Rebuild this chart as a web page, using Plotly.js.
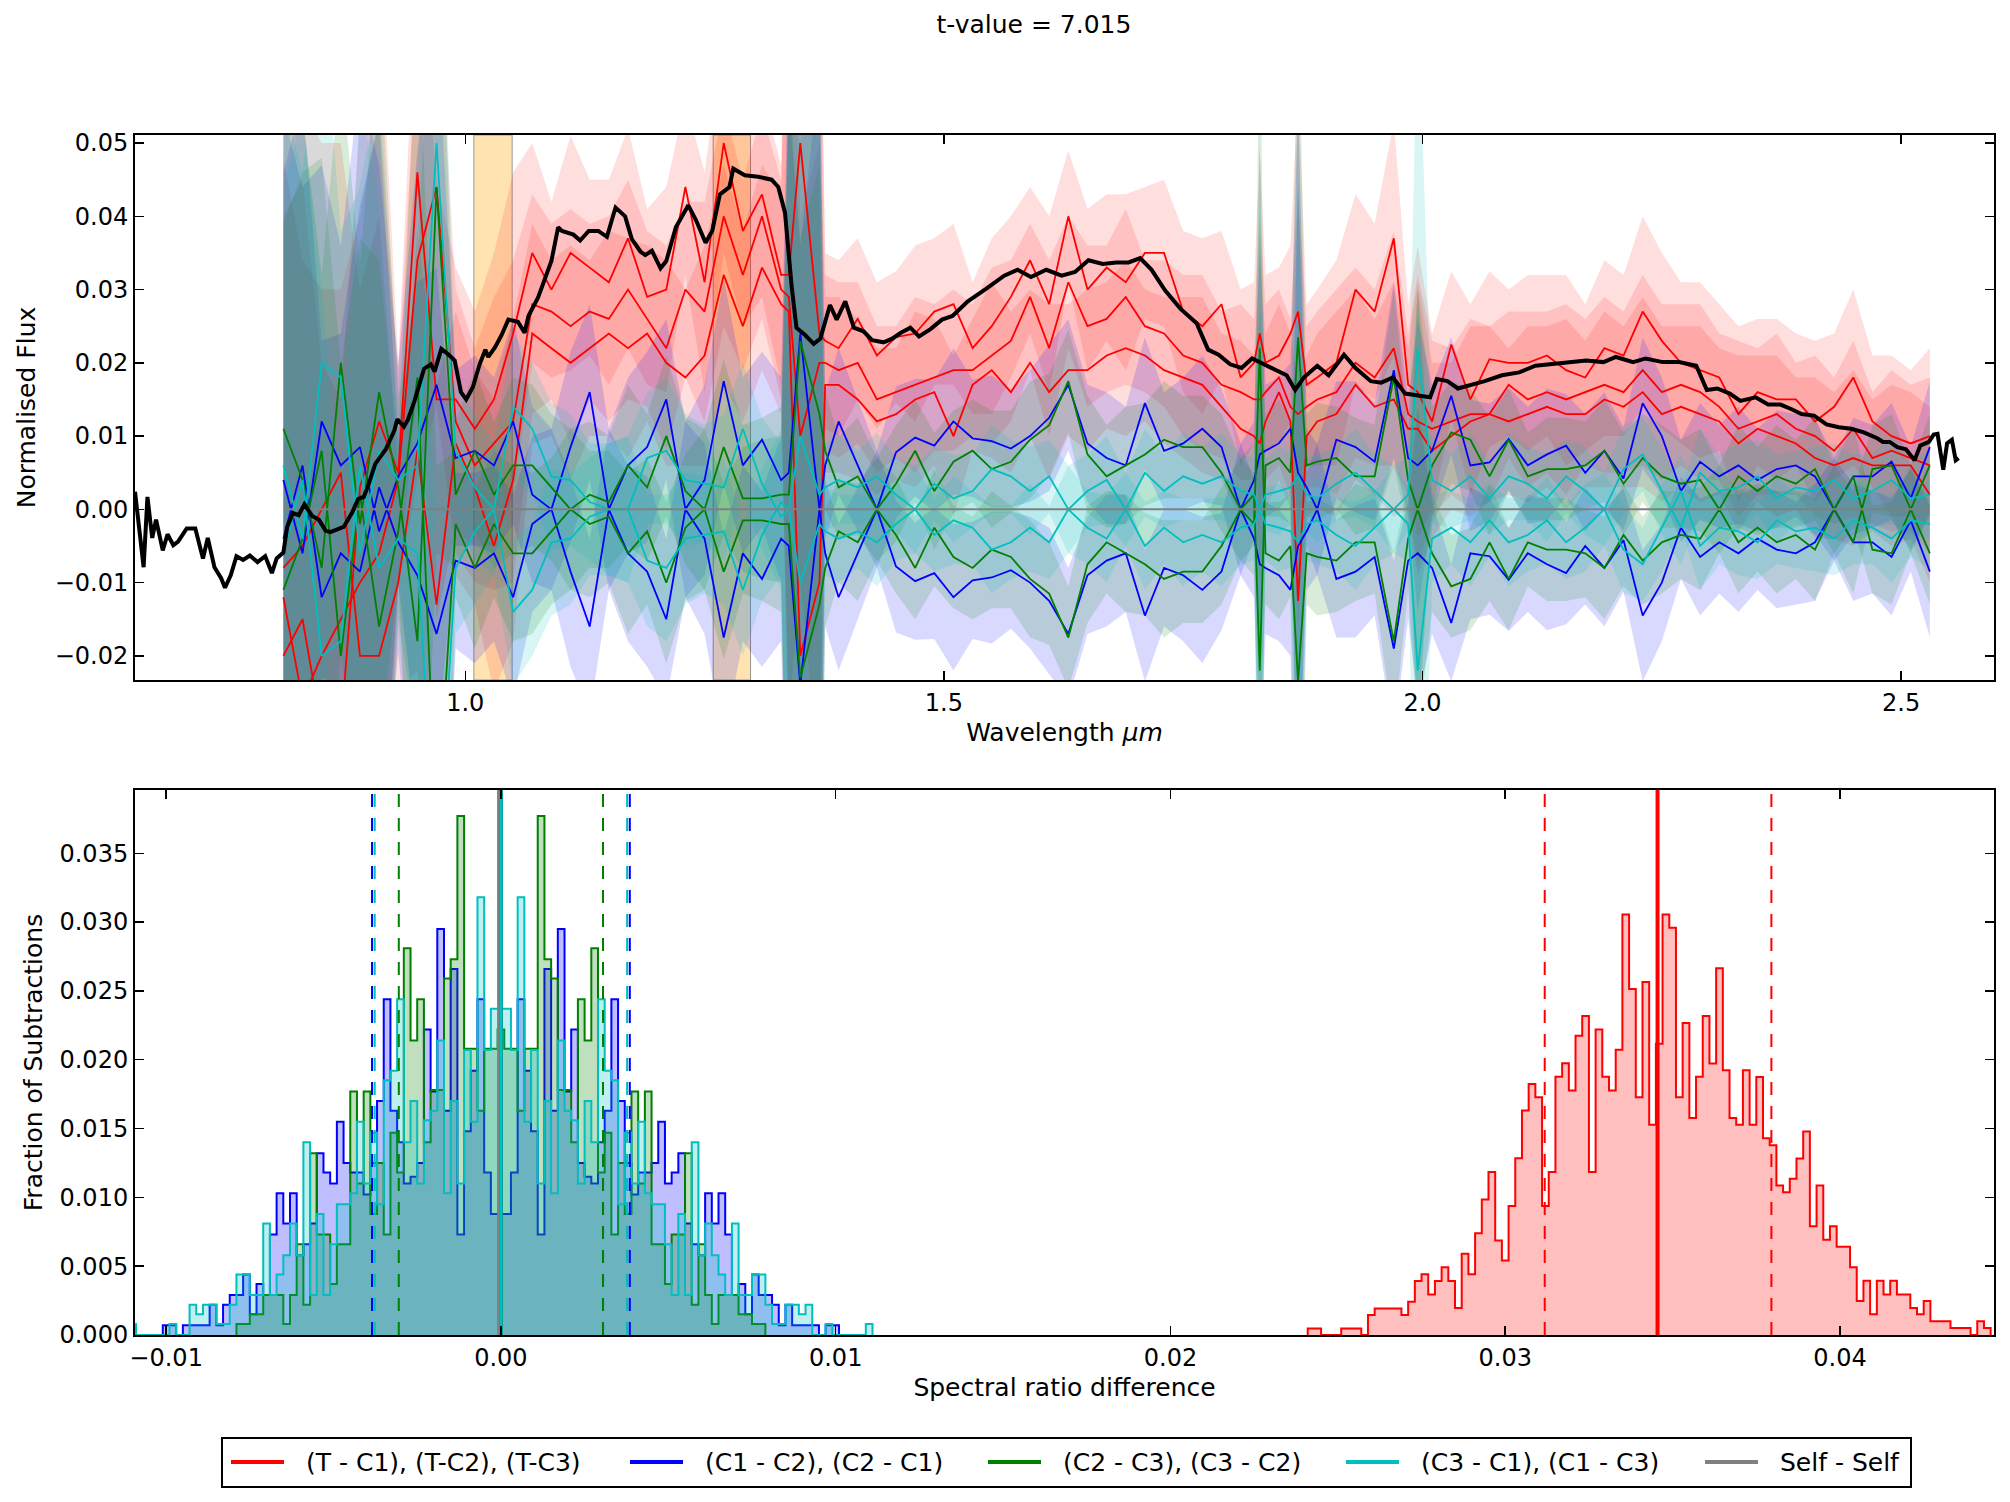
<!DOCTYPE html>
<html>
<head>
<meta charset="utf-8">
<script src="https://cdn.plot.ly/plotly-3.0.1.min.js"></script>
<style>html,body{margin:0;padding:0;background:#fff;}</style>
</head>
<body>
<div id="chart" style="width:2010px;height:1502px;"></div>
<script>
// ---------- Upper panel: spectral differences ----------
const wavelength = [0.81,0.83,0.85,0.87,0.89,0.91,0.93,0.95,0.97,0.99,
 1.01,1.03,1.05,1.07,1.09,1.11,1.13,1.15,1.17,1.19,
 1.21,1.23,1.25,1.27,1.29,1.31,1.33,
 1.338,
 1.35,1.37,
 1.376,
 1.39,1.41,1.43,1.45,1.47,1.49,1.51,1.53,1.55,1.57,1.59,
 1.61,1.63,1.65,1.67,1.69,1.71,1.73,1.75,1.77,1.79,1.81,
 1.824, 1.83, 1.836, 1.85, 1.862, 1.87, 1.879,
 1.89,1.91,1.93,1.95,1.97,
 1.985, 1.995,
 2.01,2.03,2.05,2.07,2.09,2.11,2.13,2.15,2.17,2.19,
 2.21,2.23,2.25,2.27,2.29,2.31,2.33,2.35,2.37,2.39,
 2.41,2.43,2.45,2.47,2.49,2.51,2.53];

const diffTC1 = [-0.020,-0.015,-0.030,-0.030,0.003,0.012,0.005,0.046,0.015,0.015,
 0.011,0.015,0.024,0.035,0.030,0.035,0.033,0.031,0.037,0.029,
 0.030,0.044,0.031,0.050,0.038,0.043,0.032,
 0.032,
 0.050,0.024,
 0.023,
 0.022,0.026,0.021,0.0235,0.024,0.027,0.028,0.022,0.025,0.029,0.034,
 0.028,0.040,0.030,0.033,0.031,0.035,0.035,0.027,0.025,0.028,0.018,
 0.020,0.024,0.020,0.021,0.024,0.027,0.017,
 0.018,0.020,0.030,0.027,0.037,
 0.017,0.016,
 0.012,0.0225,0.015,0.0205,0.020,0.020,0.021,0.019,0.018,0.022,
 0.021,0.027,0.023,0.020,0.019,0.018,0.013,0.016,0.015,0.015,
 0.012,0.014,0.018,0.012,0.010,0.009,0.010];

const diffTC2 = [-0.012,-0.026,-0.020,-0.015,-0.010,-0.006,0.004,0.034,0.044,0.012,
 0.006,0.009,0.012,0.028,0.027,0.025,0.027,0.026,0.030,0.026,
 0.022,0.030,0.027,0.040,0.032,0.040,0.030,
 0.029,
 0.010,0.020,
 0.020,
 0.019,0.020,0.015,0.016,0.017,0.018,0.019,0.019,0.021,0.023,0.029,
 0.022,0.031,0.025,0.026,0.029,0.025,0.024,0.021,0.020,0.017,0.016,
 0.015,0.015,0.016,0.018,0.014,0.013,0.014,
 0.015,0.016,0.020,0.018,0.022,
 0.013,0.012,
 0.011,0.012,0.013,0.013,0.017,0.015,0.016,0.015,0.016,0.017,
 0.016,0.019,0.016,0.017,0.016,0.014,0.011,0.012,0.013,0.011,
 0.010,0.008,0.011,0.007,0.008,0.007,0.006];

const diffTC3 = [-0.008,-0.005,0.000,0.005,-0.020,-0.020,-0.010,0.008,-0.013,0.009,
 0.003,-0.005,0.004,0.024,0.022,0.020,0.022,0.024,0.022,0.024,
 0.020,0.018,0.021,0.032,0.025,0.033,0.028,
 0.027,
 -0.020,-0.010,
 0.017,
 0.017,0.015,0.012,0.013,0.015,0.016,0.010,0.017,0.019,0.016,0.020,
 0.016,0.019,0.019,0.021,0.022,0.021,0.019,0.018,0.017,0.014,0.011,
 0.010,0.009,0.012,0.016,0.012,-0.0125,0.010,
 0.012,0.013,0.017,0.014,0.015,
 0.011,0.011,
 0.008,0.010,0.012,0.013,0.012,0.013,0.014,0.013,0.013,0.015,
 0.014,0.016,0.013,0.014,0.013,0.012,0.009,0.011,0.010,0.009,
 0.007,0.006,0.007,0.006,0.006,0.006,0.002];

const diffC1C2 = [0.004,-0.006,0.012,0.006,0.0085,-0.003,0.0045,0.009,0.017,0.007,
 0.008,0.006,0.012,0.002,0.000,0.0085,0.016,0.000,0.006,0.0085,
 0.015,0.000,0.004,0.0175,0.006,0.0095,0.004,
 0.005,
 0.024,0.000,
 0.006,
 0.012,0.006,0.000,0.0078,0.0098,0.0087,0.012,0.0097,0.0093,0.0083,0.010,
 0.0125,0.017,0.009,0.007,0.006,0.0145,0.008,0.009,0.011,0.0085,0.000,
 0.004,0.0075,0.008,0.009,0.011,0.005,0.003,
 0.000,0.0095,0.0085,0.0065,0.019,
 0.007,0.006,
 0.008,0.0155,0.006,0.0064,0.0096,0.006,0.0075,0.0087,0.005,0.008,
 0.0042,0.0145,0.010,0.0025,0.0065,0.0045,0.006,0.004,0.0055,0.006,
 0.0045,0.000,0.0045,0.0045,0.0065,0.0015,0.0085];

const diffC2C3 = [0.011,0.004,-0.008,0.020,-0.002,0.016,0.003,-0.018,0.044,0.002,
 0.008,0.002,0.006,0.006,0.003,0.000,0.002,0.001,0.006,0.003,
 0.010,0.0025,0.000,0.0085,0.0015,0.0015,0.002,
 0.002,
 0.023,0.013,
 0.008,
 0.003,0.0045,0.000,0.0035,0.008,0.0025,0.0065,0.008,0.0055,0.0065,0.0095,
 0.0115,0.0175,0.0075,0.0045,0.006,0.0075,0.0095,0.0085,0.0085,0.005,0.000,
 0.002,-0.022,0.006,0.007,0.005,0.0235,0.006,
 0.0065,0.007,0.0045,0.0045,0.018,
 0.004,0.000,
 0.006,0.0105,0.0095,0.0045,0.0095,0.0045,0.0055,0.0055,0.006,0.008,
 0.0035,0.007,0.0045,0.0035,0.004,0.000,0.0045,0.0025,0.0045,0.0035,
 0.0055,0.000,-0.0045,0.0055,0.006,0.000,0.006];

const diffC3C1 = [0.006,-0.004,0.020,0.018,-0.006,0.008,0.004,0.006,0.050,0.008,
 0.003,0.000,0.014,0.011,0.0045,0.004,0.001,0.000,0.000,0.007,
 0.008,0.004,0.0035,0.003,0.011,0.0035,-0.001,
 0.000,
 0.010,0.002,
 0.003,
 0.004,0.003,0.0045,0.002,0.000,0.0035,0.0015,0.0025,0.0055,0.0045,0.0025,
 0.0045,0.000,0.0025,0.004,0.000,0.005,0.0025,0.0045,0.0035,0.0045,0.0025,
 0.002,0.000,0.002,0.0025,0.003,0.0045,0.002,
 0.0015,0.0035,0.005,0.0025,0.000,
 0.002,0.022,
 0.004,0.0025,0.0045,0.0015,0.0045,0.0035,0.0015,0.0045,0.0025,0.000,
 0.0055,0.0075,0.0025,-0.0025,0.005,0.0025,0.003,0.0045,0.0015,0.003,
 0.0025,0.004,0.0015,0.0025,0.004,0.0015,0.002];

// one-sigma spreads of each difference family
const sigmaT = [0.060,0.060,0.050,0.045,0.050,0.060,0.015,0.030,0.030,0.018,
 0.016,0.020,0.022,0.015,0.012,0.016,0.012,0.014,0.015,0.012,
 0.014,0.012,0.015,0.015,0.013,0.014,0.015,
 0.060,
 0.060,0.060,
 0.012,
 0.012,0.011,0.010,0.009,0.012,0.010,0.011,0.009,0.012,0.011,0.010,
 0.012,0.009,0.011,0.010,0.012,0.009,0.010,0.011,0.012,0.010,0.012,
 0.011,0.025,0.012,0.012,0.012,0.030,0.011,
 0.012,0.014,0.013,0.012,0.016,
 0.011,0.020,
 0.012,0.010,0.013,0.012,0.010,0.012,0.011,0.013,0.010,0.012,
 0.011,0.013,0.012,0.011,0.012,0.010,0.012,0.010,0.011,0.009,
 0.011,0.010,0.012,0.009,0.011,0.010,0.012];

const sigmaC1C2 = [0.050,0.050,0.035,0.030,0.050,0.050,0.015,0.040,0.050,0.012,
 0.013,0.012,0.014,0.012,0.011,0.013,0.012,0.011,0.012,0.013,
 0.011,0.012,0.013,0.014,0.012,0.012,0.014,
 0.060,
 0.060,0.060,
 0.010,
 0.010,0.009,0.008,0.009,0.008,0.009,0.010,0.008,0.009,0.008,0.009,
 0.010,0.009,0.008,0.009,0.008,0.009,0.008,0.009,0.010,0.008,0.009,
 0.008,0.030,0.009,0.009,0.009,0.050,0.008,
 0.009,0.008,0.009,0.008,0.012,
 0.008,0.020,
 0.009,0.008,0.009,0.008,0.007,0.008,0.009,0.007,0.008,0.008,
 0.007,0.009,0.008,0.007,0.008,0.007,0.008,0.007,0.008,0.007,
 0.008,0.007,0.008,0.007,0.008,0.007,0.009];

const sigmaC2C3 = [0.050,0.050,0.040,0.040,0.035,0.050,0.012,0.050,0.050,0.010,
 0.011,0.010,0.012,0.011,0.010,0.011,0.010,0.009,0.011,0.010,
 0.011,0.010,0.011,0.012,0.010,0.011,0.012,
 0.060,
 0.060,0.060,
 0.008,
 0.007,0.008,0.007,0.008,0.007,0.008,0.007,0.007,0.008,0.007,0.008,
 0.007,0.007,0.008,0.007,0.008,0.007,0.008,0.007,0.007,0.008,0.007,
 0.007,0.050,0.007,0.008,0.007,0.050,0.007,
 0.008,0.007,0.008,0.007,0.012,
 0.007,0.030,
 0.008,0.007,0.007,0.008,0.007,0.006,0.007,0.007,0.006,0.007,
 0.007,0.006,0.007,0.006,0.007,0.006,0.007,0.006,0.007,0.006,
 0.007,0.006,0.007,0.006,0.007,0.006,0.007];

const sigmaC3C1 = [0.050,0.050,0.050,0.020,0.050,0.050,0.012,0.040,0.050,0.009,
 0.010,0.009,0.010,0.009,0.010,0.009,0.008,0.009,0.010,0.009,
 0.010,0.009,0.008,0.010,0.009,0.009,0.010,
 0.060,
 0.060,0.060,
 0.006,
 0.006,0.005,0.006,0.005,0.006,0.005,0.006,0.005,0.006,0.005,0.006,
 0.005,0.006,0.005,0.006,0.005,0.006,0.005,0.006,0.005,0.006,0.005,
 0.005,0.050,0.005,0.006,0.005,0.050,0.005,
 0.006,0.005,0.006,0.005,0.006,
 0.005,0.050,
 0.006,0.005,0.006,0.005,0.006,0.005,0.006,0.005,0.006,0.005,
 0.006,0.005,0.006,0.005,0.006,0.005,0.006,0.005,0.006,0.005,
 0.006,0.005,0.006,0.005,0.006,0.005,0.006];

// reference spectrum (normalised, offset)
const refWave = [0.655,0.664,0.668,0.673,0.677,0.684,0.689,0.695,0.700,0.709,
 0.718,0.726,0.731,0.738,0.745,0.749,0.755,0.761,0.768,0.775,
 0.783,0.791,0.798,0.803,0.810,0.814,0.820,0.826,0.832,0.840,
 0.847,0.854,0.859,0.864,0.873,0.882,0.888,0.894,0.899,0.906,
 0.917,0.926,0.929,0.936,0.940,0.947,0.952,0.957,0.964,0.968,
 0.975,0.981,0.989,0.9955,1.001,1.008,1.015,1.021,1.024,1.031,
 1.038,1.045,1.055,1.062,1.066,1.076,1.083,1.090,1.097,1.101,
 1.113,1.120,1.129,1.139,1.148,1.157,1.167,1.174,1.183,1.188,
 1.195,1.204,1.210,1.220,1.233,1.241,1.251,1.258,1.266,1.276,
 1.280,1.292,1.306,1.320,1.327,1.334,1.341,1.346,1.355,1.364,
 1.371,1.381,1.388,1.397,1.406,1.416,1.425,1.437,1.446,1.455,
 1.465,1.474,1.486,1.498,1.509,1.525,1.544,1.563,1.577,1.591,
 1.607,1.623,1.637,1.651,1.666,1.680,1.693,1.705,1.717,1.731,
 1.747,1.764,1.776,1.787,1.799,1.811,1.822,1.834,1.846,1.858,
 1.867,1.876,1.890,1.902,1.918,1.930,1.946,1.957,1.969,1.982,
 1.997,2.008,2.015,2.026,2.037,2.052,2.065,2.083,2.101,2.118,
 2.132,2.154,2.171,2.189,2.202,2.220,2.233,2.251,2.268,2.286,
 2.297,2.308,2.321,2.332,2.348,2.361,2.374,2.385,2.396,2.409,
 2.422,2.435,2.448,2.461,2.475,2.481,2.488,2.496,2.505,2.514,
 2.520,2.529,2.534,2.538,2.544,2.548,2.553,2.557,2.560];
const refFlux = [0.0024,-0.0079,0.0017,-0.0039,-0.0014,-0.0056,-0.0034,-0.0049,-0.0044,-0.0026,
 -0.0026,-0.0067,-0.0039,-0.0079,-0.0094,-0.0107,-0.0090,-0.0064,-0.0069,-0.0063,
 -0.0072,-0.0064,-0.0087,-0.0067,-0.0059,-0.0024,-0.0005,-0.0008,0.0007,-0.0009,
 -0.0014,-0.0029,-0.0031,-0.0028,-0.0024,-0.0004,0.0014,0.0017,0.0034,0.0062,
 0.0082,0.0108,0.0123,0.0113,0.0122,0.0148,0.0168,0.0192,0.0198,0.0188,
 0.0219,0.0213,0.0203,0.0160,0.0150,0.0167,0.0198,0.0218,0.0208,0.0221,
 0.0238,0.0259,0.0256,0.0241,0.0264,0.0289,0.0314,0.0339,0.0385,0.0380,
 0.0375,0.0367,0.0380,0.0380,0.0372,0.0412,0.0400,0.0369,0.0352,0.0347,
 0.0353,0.0329,0.0339,0.0385,0.0415,0.0395,0.0364,0.0380,0.0430,0.0440,
 0.0465,0.0456,0.0454,0.0450,0.0440,0.0405,0.0304,0.0248,0.0238,0.0226,
 0.0233,0.0279,0.0259,0.0284,0.0248,0.0243,0.0231,0.0228,0.0233,0.0241,
 0.0248,0.0236,0.0246,0.0259,0.0264,0.0284,0.0301,0.0319,0.0327,0.0317,
 0.0327,0.0319,0.0324,0.0340,0.0335,0.0337,0.0337,0.0343,0.0327,0.0299,
 0.0274,0.0254,0.0218,0.0211,0.0198,0.0193,0.0206,0.0198,0.0190,0.0183,
 0.0163,0.0180,0.0196,0.0183,0.0211,0.0193,0.0175,0.0173,0.0180,0.0158,
 0.0155,0.0153,0.0178,0.0175,0.0165,0.0170,0.0175,0.0183,0.0187,0.0196,
 0.0198,0.0201,0.0203,0.0201,0.0208,0.0201,0.0206,0.0201,0.0201,0.0196,
 0.0163,0.0165,0.0158,0.0148,0.0153,0.0143,0.0143,0.0137,0.0130,0.0128,
 0.0116,0.0112,0.0110,0.0105,0.0097,0.0092,0.0092,0.0085,0.0082,0.0067,
 0.0087,0.0092,0.0102,0.0103,0.0054,0.0090,0.0095,0.0067,0.0070];

const selfWave = [0.81, 2.53];
const selfDiff = [0, 0];

// telluric windows shaded in the spectrum panel
const bandStart = [1.009, 1.259];
const bandEnd = [1.049, 1.298];

// ---------- Lower panel: distributions of the spectral ratio difference ----------
const binWidth = 0.0002;
// central bin straddles zero; pairs are antisymmetric so each spread mirrors about zero
const histC1C2Half = [0.0088,0.0088,0.0118,0.0244,0.0192,0.0148,0.0073,0.0266,0.0163,0.0295,
 0.0177,0.0222,0.0125,0.0115,0.0110,0.0140,0.0163,0.0244,0.0170,0.0125,
 0.0102,0.0118,0.0118,0.0125,0.0155,0.0110,0.0118,0.0132,0.0081,0.0066,
 0.0058,0.0103,0.0081,0.0103,0.0073,0.0029,0.0037,0.0015,0.0044,0.0029,
 0.0029,0.0022,0.0007,0.0022,0.0007,0.0007,0.0007,0.0007,0,0.0007,0.0007];
const histC2C3Half = [0.0222,0.0208,0.0208,0.0163,0.0208,0.0208,0.0377,0.0273,0.0259,0.0178,
 0.0178,0.0140,0.0244,0.0214,0.0281,0.0118,0.0147,0.0073,0.0125,0.0088,
 0.0177,0.0110,0.0177,0.0066,0.0066,0.0037,0.0073,0.0073,0.0132,0.0022,
 0.0066,0.0029,0.0008,0.0029,0.0029,0.0029,0.0015,0.0015,0.0008,0.0008];
const histC3C1Half = [0.0237,0.0237,0.0207,0.0318,0.0155,0.0207,0.0110,0.0170,0.0103,0.0214,
 0.0163,0.0156,0.0110,0.0170,0.0140,0.0244,0.0192,0.0185,0.0095,0.0147,
 0.0110,0.0155,0.0103,0.0095,0.0095,0.0066,0.0029,0.0088,0.0029,0.0140,
 0.0058,0.0081,0.0058,0.0044,0.0029,0.0081,0.0029,0.0029,0.0044,0.0044,
 0.0022,0.0008,0.0008,0.0022,0.0022,0.0015,0.0022,0,0,0.0008,
 0,0,0,0,0,0.0008];
const histTStart = 0.0241;
const histT = [0.00047,0.00047,0,0,0,0.00047,0.00047,0.00047,0,0.00145,
 0.00192,0.00192,0.00192,0.00192,0.00145,0.00242,0.00392,0.00442,0.00295,0.00392,
 0.00492,0.00392,0.00197,0.0059,0.00442,0.0074,0.00984,0.01185,0.00687,0.00542,
 0.00937,0.01285,0.01632,0.01824,0.01727,0.00937,0.01185,0.01877,0.01974,0.01777,
 0.02175,0.02317,0.01185,0.02219,0.01877,0.01777,0.02072,0.03056,0.02514,0.01727,
 0.02564,0.01527,0.02116,0.03056,0.02959,0.01727,0.02266,0.01577,0.01877,0.02317,
 0.01972,0.02664,0.01924,0.01577,0.01527,0.01924,0.01527,0.01874,0.01429,0.01379,
 0.01087,0.01037,0.01135,0.01282,0.01479,0.0079,0.01087,0.00692,0.0079,0.00642,
 0.00642,0.00492,0.00247,0.00395,0.0015,0.00395,0.00295,0.00395,0.00295,0.00295,
 0.00197,0.0015,0.00247,0.001,0.001,0.001,0.0005,0.0005,0.0005,0,
 0.001,0.0005];

// order: T, C1-C2, C2-C3, C3-C1
const seriesNames = ['(T - C1), (T-C2), (T-C3)', '(C1 - C2), (C2 - C1)', '(C2 - C3), (C3 - C2)', '(C3 - C1), (C1 - C3)'];
const selfName = 'Self - Self';
const histMean = [0.03455, 0, 0, 0];
const histLow = [0.03118, -0.00385, -0.00305, -0.00377];
const histHigh = [0.03795, 0.00385, 0.00305, 0.00377];

const fluxRange = [-0.0233, 0.0511];
const waveRange = [0.655, 2.597];
const ratioRange = [-0.01093, 0.0446];
const fracRange = [0, 0.0396];

// ---------- styling ----------
const RED = '#ff0000', BLUE = '#0000ff', GREEN = '#008000', CYAN = '#00bfbf', GREY = '#808080';
const lineColors = [RED, BLUE, GREEN, CYAN];
const bandFills = ['rgba(255,0,0,0.13)', 'rgba(0,0,255,0.15)', 'rgba(0,128,0,0.15)', 'rgba(0,191,191,0.15)'];
const histFills = ['rgba(255,0,0,0.25)', 'rgba(0,0,255,0.25)', 'rgba(0,128,0,0.25)', 'rgba(0,191,191,0.25)'];
const FONT = 'DejaVu Sans, sans-serif';

// page geometry of the plotting area (px)
const PLOT_L = 135, PLOT_R = 1994, PLOT_T = 135, PLOT_B = 1335;
const px2x = p => (p - PLOT_L) / (PLOT_R - PLOT_L);
const py2y = p => (PLOT_B - p) / (PLOT_B - PLOT_T);

function scaled(arr, s) { return arr.map(v => v * s); }

function bandTrace(x, y, sig, fill) {
  const up = y.map((v, i) => v + sig[i]);
  const lo = y.map((v, i) => v - sig[i]);
  return {
    x: x.concat(x.slice().reverse()),
    y: up.concat(lo.slice().reverse()),
    xaxis: 'x', yaxis: 'y', type: 'scatter', mode: 'lines',
    fill: 'toself', fillcolor: fill, line: {width: 0},
    hoverinfo: 'skip', showlegend: false
  };
}
function lineTrace(x, y, color, width) {
  return {x: x, y: y, xaxis: 'x', yaxis: 'y', type: 'scatter', mode: 'lines',
    line: {color: color, width: width}, hoverinfo: 'skip', showlegend: false};
}

const traces = [];
// spreads first, then the difference curves on top
const families = [
  {vals: [diffTC1, diffTC2, diffTC3], sig: sigmaT, signs: [1]},
  {vals: [diffC1C2], sig: sigmaC1C2, signs: [1, -1]},
  {vals: [diffC2C3], sig: sigmaC2C3, signs: [1, -1]},
  {vals: [diffC3C1], sig: sigmaC3C1, signs: [1, -1]}
];
families.forEach((f, k) => {
  f.vals.forEach(v => f.signs.forEach(s => traces.push(bandTrace(wavelength, scaled(v, s), f.sig, bandFills[k]))));
});
families.forEach((f, k) => {
  f.vals.forEach(v => f.signs.forEach(s => traces.push(lineTrace(wavelength, scaled(v, s), lineColors[k], 1.8))));
});
traces.push(lineTrace(selfWave, selfDiff, GREY, 2));
traces.push(lineTrace(refWave, refFlux, '#000000', 4));

// ---------- histograms ----------
function mirrored(half) {
  const h = [];
  for (let k = half.length - 1; k > 0; k--) h.push(half[k]);
  for (let k = 0; k < half.length; k++) h.push(half[k]);
  return h;
}
function mirroredEdges(half) {
  const K = half.length - 1, e = [];
  for (let k = -K; k <= K + 1; k++) e.push((k - 0.5) * binWidth);
  return e;
}
function stepTrace(edges, heights, color, fill) {
  const x = [edges[0]], y = [0];
  heights.forEach((v, i) => { x.push(edges[i]); y.push(v); });
  x.push(edges[edges.length - 1]); y.push(0);
  return {x: x, y: y, xaxis: 'x2', yaxis: 'y2', type: 'scatter', mode: 'lines',
    line: {shape: 'hv', color: color, width: 2}, fill: 'tozeroy', fillcolor: fill,
    hoverinfo: 'skip', showlegend: false};
}
const tEdges = histT.map((v, i) => histTStart + i * binWidth).concat([histTStart + histT.length * binWidth]);
traces.push(stepTrace(tEdges, histT, RED, histFills[0]));
[histC1C2Half, histC2C3Half, histC3C1Half].forEach((h, k) => {
  traces.push(stepTrace(mirroredEdges(h), mirrored(h), lineColors[k + 1], histFills[k + 1]));
});

// spread markers (dashed) and means (solid)
for (let k = 0; k < 4; k++) {
  traces.push({x: [histLow[k], histLow[k], null, histHigh[k], histHigh[k]],
    y: [fracRange[0], fracRange[1], null, fracRange[0], fracRange[1]],
    xaxis: 'x2', yaxis: 'y2', type: 'scatter', mode: 'lines',
    line: {color: lineColors[k], width: 2, dash: '13px,11px'}, hoverinfo: 'skip', showlegend: false});
}
traces.push({x: [-0.00004, -0.00004], y: fracRange, xaxis: 'x2', yaxis: 'y2', type: 'scatter', mode: 'lines',
  line: {color: GREY, width: 5}, hoverinfo: 'skip', showlegend: false});
for (let k = 0; k < 4; k++) {
  traces.push({x: [histMean[k], histMean[k]], y: fracRange, xaxis: 'x2', yaxis: 'y2',
    type: 'scatter', mode: 'lines',
    line: {color: lineColors[k], width: k === 0 ? 4 : 3.5}, hoverinfo: 'skip', showlegend: false});
}

// ---------- shapes: shaded windows and legend frame ----------
const shapes = bandStart.map((s, i) => ({
  type: 'rect', xref: 'x', yref: 'y domain', x0: s, x1: bandEnd[i], y0: 0, y1: 1,
  fillcolor: 'rgba(255,165,0,0.3)', line: {color: 'rgba(128,128,128,0.8)', width: 1}, layer: 'below'
}));

const legendLabels = seriesNames.concat([selfName]);
const legendColors = lineColors.concat([GREY]);
const legendLineStart = [231, 630, 988, 1346, 1705];
const legendMidY = 1462;
shapes.push({type: 'rect', xref: 'paper', yref: 'paper',
  x0: px2x(222), x1: px2x(1911), y0: py2y(1487), y1: py2y(1438),
  line: {color: '#000', width: 2}, fillcolor: '#fff', layer: 'above'});
const annotations = [];
legendLabels.forEach((lab, i) => {
  shapes.push({type: 'line', xref: 'paper', yref: 'paper',
    x0: px2x(legendLineStart[i]), x1: px2x(legendLineStart[i] + 53),
    y0: py2y(legendMidY), y1: py2y(legendMidY),
    line: {color: legendColors[i], width: 4}, layer: 'above'});
  annotations.push({xref: 'paper', yref: 'paper', x: px2x(legendLineStart[i] + 73), y: py2y(legendMidY),
    xanchor: 'left', yanchor: 'middle', text: lab, showarrow: false,
    font: {size: 25, family: FONT, color: '#000'}});
});

const axisBase = {
  showline: true, linecolor: '#000', linewidth: 2, mirror: 'ticks',
  ticks: 'inside', ticklen: 9, tickwidth: 1.5, tickcolor: '#000',
  showgrid: false, zeroline: false, tickfont: {size: 24, family: FONT, color: '#000'}
};

const layout = {
  width: 2010, height: 1502,
  margin: {l: PLOT_L, r: 2010 - PLOT_R, t: PLOT_T, b: 1502 - PLOT_B},
  paper_bgcolor: '#fff', plot_bgcolor: '#fff',
  font: {family: FONT, size: 24, color: '#000'},
  title: {text: 't-value = 7.015', xref: 'container', yref: 'container',
    x: 0.5144, y: 1 - 24 / 1502, xanchor: 'center', yanchor: 'middle', font: {size: 25}},
  showlegend: false,
  xaxis: Object.assign({}, axisBase, {domain: [0, 1], anchor: 'y', range: waveRange,
    tick0: 0, dtick: 0.5, tickformat: '.1f',
    title: {text: 'Wavelength <i>μm</i>', font: {size: 25}, standoff: 8}}),
  yaxis: Object.assign({}, axisBase, {domain: [0.5458, 1], anchor: 'x', range: fluxRange,
    tick0: 0, dtick: 0.01, tickformat: '.2f',
    title: {text: 'Normalised Flux', font: {size: 25}, standoff: 12}}),
  xaxis2: Object.assign({}, axisBase, {domain: [0, 1], anchor: 'y2', range: ratioRange,
    tick0: 0, dtick: 0.01, tickformat: '.2f',
    title: {text: 'Spectral ratio difference', font: {size: 25}, standoff: 8}}),
  yaxis2: Object.assign({}, axisBase, {domain: [0, 0.4542], anchor: 'x2', range: fracRange,
    tick0: 0, dtick: 0.005, tickformat: '.3f',
    title: {text: 'Fraction of Subtractions', font: {size: 25}, standoff: 10}}),
  shapes: shapes,
  annotations: annotations
};

Plotly.newPlot('chart', traces, layout, {displayModeBar: false, staticPlot: true});
</script>
</body>
</html>
